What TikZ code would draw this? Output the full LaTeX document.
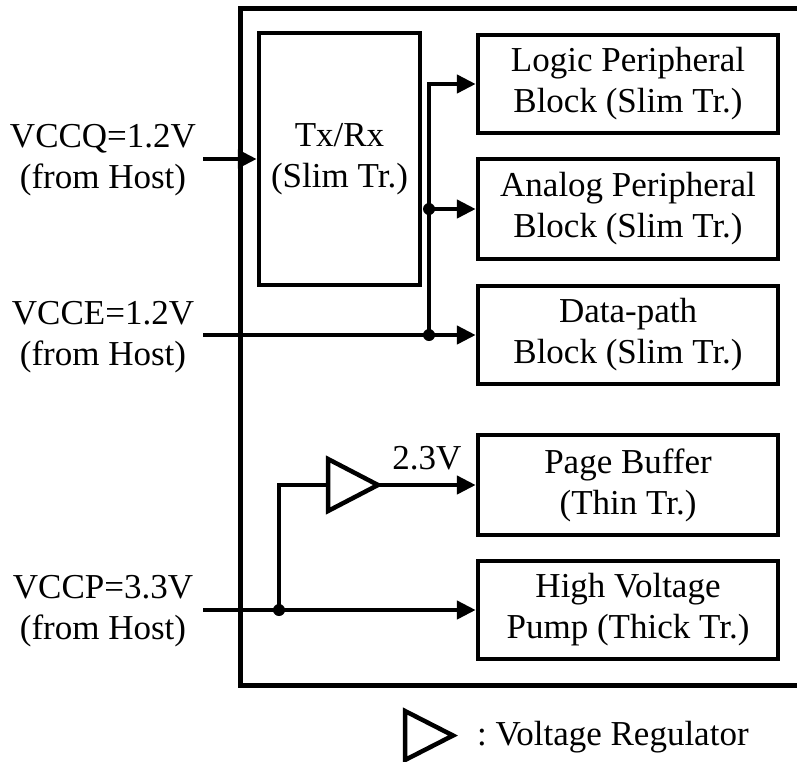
\documentclass[tikz,border=0pt]{standalone}
\usepackage{fontspec}
\setmainfont{Liberation Serif}
\usetikzlibrary{arrows.meta}
\begin{document}
\begin{tikzpicture}[x=1pt,y=-1pt,
  every node/.style={font=\fontsize{35}{41}\selectfont, inner sep=0pt},
  blk/.style={draw, line width=4.5pt, minimum width=300pt, minimum height=98pt, align=center},
  wire/.style={line width=4.5pt},
  arr/.style={wire, -{Triangle[length=19pt,width=18pt]}},
  jdot/.style={circle, fill, minimum size=12pt, inner sep=0pt},
  lbl/.style={align=center}]
\useasboundingbox (0,0) rectangle (797,761);
% outer chip frame
\coordinate (ftr) at (805,8);
\coordinate (ftl) at (240,8);
\coordinate (fbl) at (240,685);
\coordinate (fbr) at (805,685);
\draw[line width=5pt, line join=miter] (ftr) -- (ftl) -- (fbl) -- (fbr);
% blocks
\node[blk, minimum width=161pt, minimum height=252pt] (txrx) at (339.5,159) {Tx/Rx\\(Slim Tr.)};
\node[blk] (logic) at (628,84) {Logic Peripheral\\Block (Slim Tr.)};
\node[blk, minimum height=100pt] (analog) at (628,209) {Analog Peripheral\\Block (Slim Tr.)};
\node[blk] (data) at (628,335) {Data-path\\Block (Slim Tr.)};
\node[blk, minimum height=100pt] (page) at (628,485) {Page Buffer\\(Thin Tr.)};
\node[blk] (hv) at (628,610) {High Voltage\\Pump (Thick Tr.)};
% left labels
\node[lbl] (lq) at (103,160) {VCCQ=1.2V\\(from Host)};
\node[lbl] (le) at (103,337) {VCCE=1.2V\\(from Host)};
\node[lbl] (lp) at (103,611) {VCCP=3.3V\\(from Host)};
% VCCQ
\coordinate (q) at (203,159);
\draw[arr] (q) -- (txrx.west);
% VCCE bus
\coordinate (bt) at (429,84);
\coordinate (bm) at (429,209);
\coordinate (bb) at (429,335);
\coordinate (e) at (203,335);
\draw[arr, line join=miter] (bb) -- (bt) -- (logic.west);
\draw[arr] (bm) -- (analog.west);
\draw[arr] (e) -- (data.west);
\node[jdot] (dm) at (bm) {};
\node[jdot] (db) at (bb) {};
% VCCP
\coordinate (p) at (203,610);
\coordinate (pj) at (279,610);
\coordinate (ru) at (279,485);
\coordinate (regin) at (328,485);
\coordinate (regt) at (328,459);
\coordinate (regb) at (328,511);
\coordinate (regout) at (378,485);
\draw[arr] (p) -- (hv.west);
\draw[wire, line join=miter] (pj) -- (ru) -- (regin);
\draw[wire, line join=miter] (regt) -- (regb) -- (regout) -- cycle;
\draw[arr] (regout) -- (page.west);
\node (v23) at (427,458) {2.3V};
\node[jdot] (dp) at (pj) {};
% legend
\coordinate (lgt) at (405,711);
\coordinate (lgb) at (405,760);
\coordinate (lgo) at (453,735.5);
\draw[wire, line join=miter] (lgt) -- (lgb) -- (lgo) -- cycle;
\node[anchor=base west] (lgtext) at (477,745) {:\hspace{-3pt} Voltage Regulator};
\end{tikzpicture}
\end{document}
